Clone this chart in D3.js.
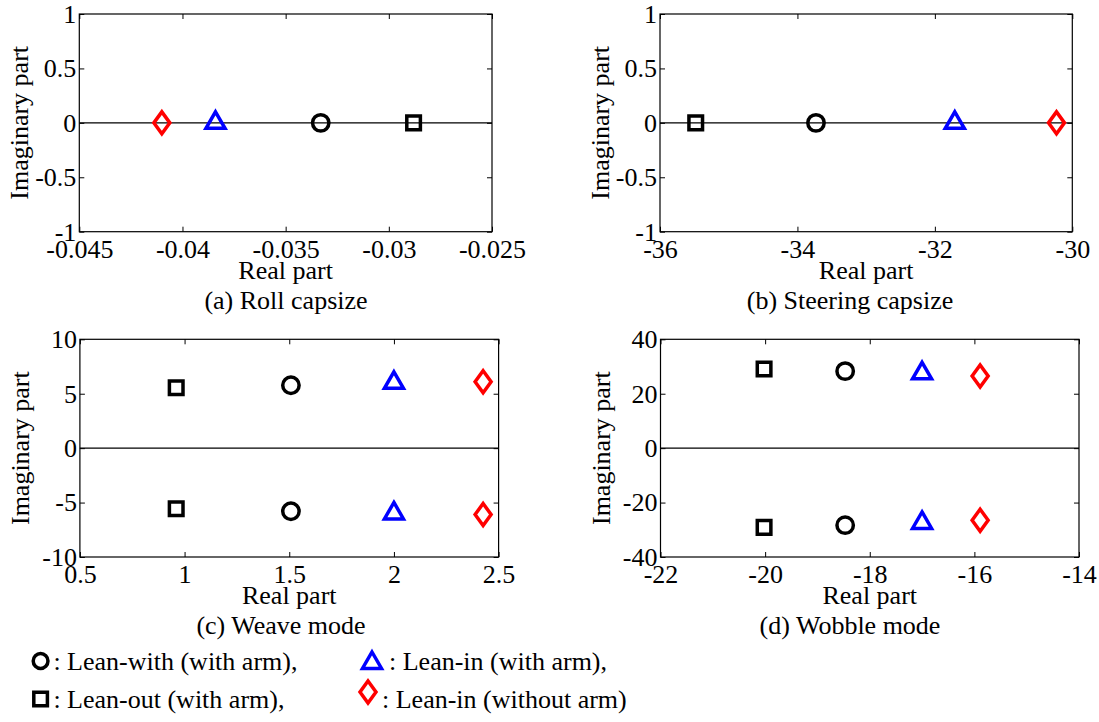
<!DOCTYPE html>
<html>
<head>
<meta charset="utf-8">
<script src="https://cdn.jsdelivr.net/npm/d3@7"></script>
<style>
  body { margin: 0; background: #fff; }
  text { font-family: "Liberation Serif", "Times New Roman", serif; fill: #000; }
</style>
</head>
<body>
<script>
let width = 1099,
    height = 722;

// series order: circle, triangle, square, diamond
let seriesNames = ["Lean-with (with arm)", "Lean-in (with arm)", "Lean-out (with arm)", "Lean-in (without arm)"];
let seriesShapes = ["circle", "triangle", "square", "diamond"];
let seriesColors = ["#000000", "#0000ff", "#000000", "#ff0000"];

// (a) roll capsize
let rollReal = [-0.0333, -0.0384, -0.0288, -0.0410];
let rollImag = [0, 0, 0, 0];
// (b) steering capsize
let steerReal = [-33.73, -31.71, -35.48, -30.23];
let steerImag = [0, 0, 0, 0];
// (c) weave mode, conjugate pair
let weaveReal = [1.508, 2.0, 0.96, 2.426];
let weaveImagUp = [5.78, 6.0, 5.55, 6.1];
let weaveImagDown = [-5.8, -6.0, -5.57, -6.1];
// (d) wobble mode, conjugate pair
let wobbleReal = [-18.47, -17.0, -20.02, -15.89];
let wobbleImagUp = [28.3, 27.5, 29.1, 26.5];
let wobbleImagDown = [-28.3, -27.5, -29.1, -26.5];

let xTicksA = [-0.045, -0.04, -0.035, -0.03, -0.025];
let xTicksB = [-36, -34, -32, -30];
let xTicksC = [0.5, 1, 1.5, 2, 2.5];
let xTicksD = [-22, -20, -18, -16, -14];
let yTicksAB = [-1, -0.5, 0, 0.5, 1];
let yTicksC = [-10, -5, 0, 5, 10];
let yTicksD = [-40, -20, 0, 20, 40];

let captions = ["(a) Roll capsize", "(b) Steering capsize", "(c) Weave mode", "(d) Wobble mode"];

let serif = "'Liberation Serif', 'Times New Roman', serif";

let svg = d3.select("body")
    .append("svg")
    .attr("width", width)
    .attr("height", height);

function markerPath(shape, s) {
  s = s || 1;
  if (shape === "circle") {
    let r = 8.2 * s;
    return "M" + r + ",0A" + r + "," + r + " 0 1,1 " + (-r) + ",0A" + r + "," + r + " 0 1,1 " + r + ",0Z";
  }
  if (shape === "square") {
    let h = 6.8 * s;
    return "M" + (-h) + "," + (-h) + "H" + h + "V" + h + "H" + (-h) + "Z";
  }
  if (shape === "triangle") {
    let r = 11 * s;
    return "M0," + (-r) + "L" + (r * 0.866) + "," + (r / 2) + "L" + (-r * 0.866) + "," + (r / 2) + "Z";
  }
  // diamond
  let a = 8 * s, b = 11 * s;
  return "M0," + (-b) + "L" + a + ",0L0," + b + "L" + (-a) + ",0Z";
}

function drawPanel(p) {
  let x = d3.scaleLinear().domain(p.xDomain).range([p.x0, p.x1]);
  let y = d3.scaleLinear().domain(p.yDomain).range([p.y1, p.y0]);
  let g = svg.append("g");

  // zero line
  g.append("line")
      .attr("x1", p.x0).attr("x2", p.x1)
      .attr("y1", y(0)).attr("y2", y(0))
      .attr("stroke", "#000").attr("stroke-width", 1.2);

  // axes with inward ticks, mirrored on top/right
  let fmt = d => String(d);
  g.append("g")
      .attr("transform", "translate(0," + p.y1 + ")")
      .call(d3.axisBottom(x).tickValues(p.xTicks).tickFormat(fmt).tickSizeInner(-5).tickSizeOuter(0).tickPadding(7.5))
      .call(a => a.select(".domain").remove());
  g.append("g")
      .attr("transform", "translate(0," + p.y0 + ")")
      .call(d3.axisTop(x).tickValues(p.xTicks).tickFormat("").tickSizeInner(-5).tickSizeOuter(0))
      .call(a => a.select(".domain").remove());
  g.append("g")
      .attr("transform", "translate(" + p.x0 + ",0)")
      .call(d3.axisLeft(y).tickValues(p.yTicks).tickFormat(fmt).tickSizeInner(-5).tickSizeOuter(0).tickPadding(3))
      .call(a => a.select(".domain").remove());
  g.append("g")
      .attr("transform", "translate(" + p.x1 + ",0)")
      .call(d3.axisRight(y).tickValues(p.yTicks).tickFormat("").tickSizeInner(-5).tickSizeOuter(0))
      .call(a => a.select(".domain").remove());

  g.selectAll("g").attr("font-family", serif).attr("font-size", 26);
  g.selectAll(".tick text")
      .style("font-family", serif)
      .style("font-size", "26px")
      .attr("fill", "#000");
  g.selectAll(".tick line").attr("stroke", "#000");

  // box
  g.append("rect")
      .attr("x", p.x0).attr("y", p.y0)
      .attr("width", p.x1 - p.x0).attr("height", p.y1 - p.y0)
      .attr("fill", "none").attr("stroke", "#000").attr("stroke-width", 1.2);

  // points
  p.sets.forEach(set => {
    g.selectAll(null)
        .data(set.re.map((re, i) => ({re: re, im: set.im[i], i: i})))
        .enter()
        .append("path")
        .attr("transform", d => "translate(" + x(d.re) + "," + y(d.im) + ")")
        .attr("d", d => markerPath(seriesShapes[d.i]))
        .attr("fill", "none")
        .attr("stroke", d => seriesColors[d.i])
        .attr("stroke-width", 3.5);
  });

  let cx = (p.x0 + p.x1) / 2;
  g.append("text")
      .attr("x", cx)
      .attr("y", p.y1 + 47)
      .style("text-anchor", "middle")
      .style("font-size", "26px")
      .text("Real part");

  g.append("text")
      .attr("transform", "translate(" + (p.x0 - 51) + "," + ((p.y0 + p.y1) / 2) + ") rotate(-90)")
      .style("text-anchor", "middle")
      .style("font-size", "26px")
      .text("Imaginary part");

  g.append("text")
      .attr("x", p.capX)
      .attr("y", p.y1 + 77)
      .style("text-anchor", "middle")
      .style("font-size", "26px")
      .text(p.caption);
}

drawPanel({
  x0: 79.3, x1: 492, y0: 14, y1: 231.7,
  xDomain: [-0.045, -0.025], yDomain: [-1, 1],
  xTicks: xTicksA, yTicks: yTicksAB,
  sets: [{re: rollReal, im: rollImag}],
  caption: captions[0], capX: 286
});
drawPanel({
  x0: 660, x1: 1072.3, y0: 14, y1: 231.7,
  xDomain: [-36, -30], yDomain: [-1, 1],
  xTicks: xTicksB, yTicks: yTicksAB,
  sets: [{re: steerReal, im: steerImag}],
  caption: captions[1], capX: 850
});
drawPanel({
  x0: 79.9, x1: 498.6, y0: 339.3, y1: 557,
  xDomain: [0.5, 2.5], yDomain: [-10, 10],
  xTicks: xTicksC, yTicks: yTicksC,
  sets: [{re: weaveReal, im: weaveImagUp}, {re: weaveReal, im: weaveImagDown}],
  caption: captions[2], capX: 281
});
drawPanel({
  x0: 660.5, x1: 1079, y0: 339.3, y1: 557,
  xDomain: [-22, -14], yDomain: [-40, 40],
  xTicks: xTicksD, yTicks: yTicksD,
  sets: [{re: wobbleReal, im: wobbleImagUp}, {re: wobbleReal, im: wobbleImagDown}],
  caption: captions[3], capX: 850
});

// legend (two rows, two columns)
let legendItems = [
  {i: 0, mx: 40.6, my: 661, tx: 53.4, ty: 670, s: 0.9},
  {i: 1, mx: 372, my: 663, tx: 389, ty: 670, s: 1},
  {i: 2, mx: 40.6, my: 699, tx: 53.4, ty: 708, s: 1},
  {i: 3, mx: 368, my: 692, tx: 382, ty: 708, s: 1}
];
let legend = svg.append("g");
legendItems.forEach(l => {
  legend.append("path")
      .attr("transform", "translate(" + l.mx + "," + l.my + ")")
      .attr("d", markerPath(seriesShapes[l.i], l.s))
      .attr("fill", "none")
      .attr("stroke", seriesColors[l.i])
      .attr("stroke-width", 3.5);
  legend.append("text")
      .attr("x", l.tx)
      .attr("y", l.ty)
      .style("font-size", "26px")
      .text(": " + seriesNames[l.i] + (l.i === 3 ? "" : ","));
});
</script>
</body>
</html>
